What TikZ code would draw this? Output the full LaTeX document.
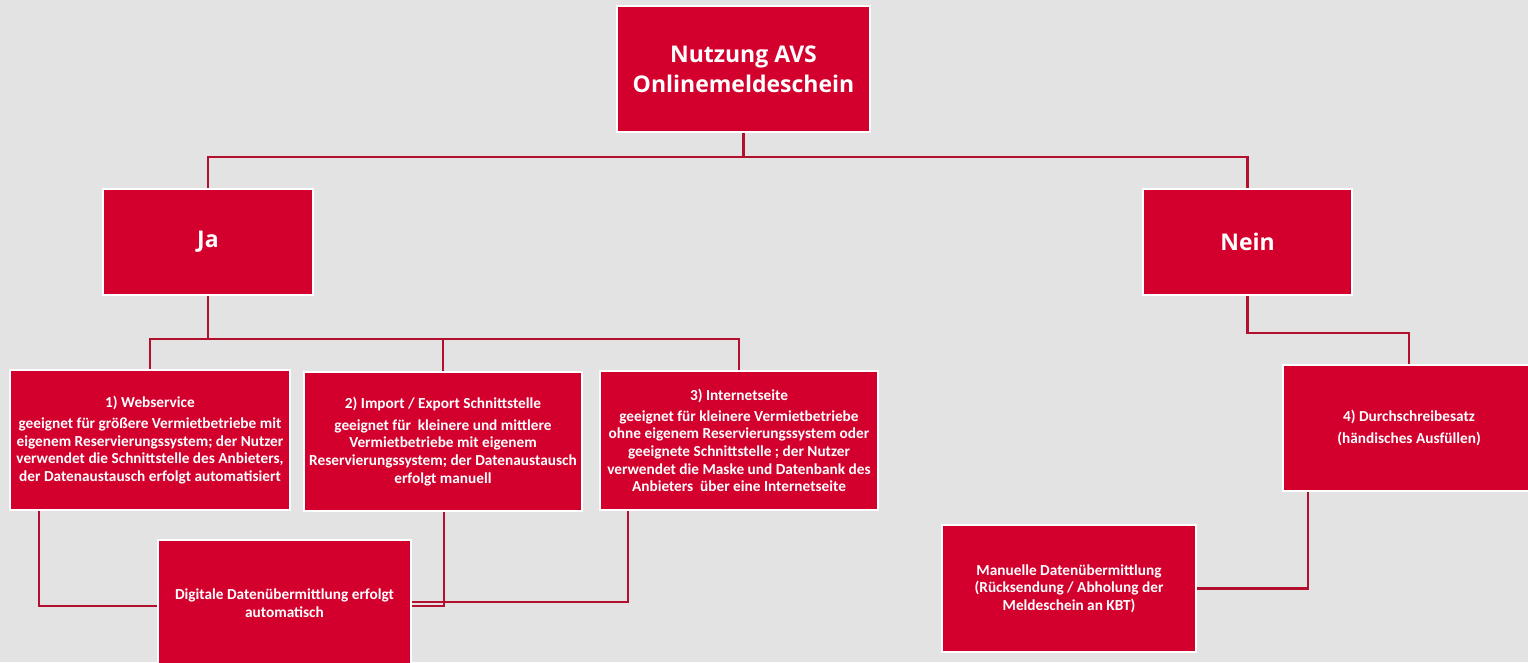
\documentclass[tikz,border=0pt]{standalone}
\usepackage{fontspec}
\setmainfont{Carlito}
\newfontfamily\bigfont{Open Sans}
\definecolor{boxred}{HTML}{D3002E}
\definecolor{linered}{HTML}{B3102F}
\definecolor{bg}{HTML}{E3E3E3}
\begin{document}
\begin{tikzpicture}[x=1pt,y=-1pt,
  box/.style={fill=boxred,draw=white,line width=2pt,inner sep=0pt,align=center,text=white},
  big/.style={box,font=\bigfont\bfseries\fontsize{23}{30}\selectfont},
  small/.style={box,font=\bfseries\fontsize{15.3}{17.6}\selectfont},
  conn/.style={draw=linered,line width=2.6pt}]
\fill[bg] (0,0) rectangle (1528,662);
\useasboundingbox (0,0) rectangle (1528,662);
\begin{scope}
\clip (0,0) rectangle (1528,662);
% boxes
\node[big,minimum width=253,minimum height=126] (top) at (743.5,69) {Nutzung AVS\\Onlinemeldeschein};
\node[big,minimum width=210,minimum height=106] (ja) at (208,242) {Ja};
\node[big,minimum width=209,minimum height=106] (nein) at (1247.5,242) {Nein};
\node[small,minimum width=280,minimum height=140] (b1) at (150,440) {1) Webservice\\[4pt]geeignet für größere Vermietbetriebe mit\\eigenem Reservierungssystem; der Nutzer\\verwendet die Schnittstelle des Anbieters,\\der Datenaustausch erfolgt automatisiert};
\node[small,minimum width=278,minimum height=139] (b2) at (443,441.5) {2) Import / Export Schnittstelle\\[4pt]geeignet für\ \ kleinere und mittlere\\Vermietbetriebe mit eigenem\\Reservierungssystem; der Datenaustausch\\erfolgt manuell};
\node[small,minimum width=278,minimum height=139] (b3) at (739,440.5) {3) Internetseite\\[3pt]geeignet für kleinere Vermietbetriebe\\ohne eigenem Reservierungssystem oder\\geeignete Schnittstelle ; der Nutzer\\verwendet die Maske und Datenbank des\\Anbieters\ \ über eine Internetseite};
\node[small,minimum width=252,minimum height=126] (b4) at (1409,428) {4) Durchschreibesatz\\[5pt](händisches Ausfüllen)};
\node[small,minimum width=253,minimum height=126] (dig) at (284.5,603) {Digitale Datenübermittlung erfolgt\\automatisch};
\node[small,minimum width=254,minimum height=127] (man) at (1069,588.5) {Manuelle Datenübermittlung\\(Rücksendung / Abholung der\\Meldeschein an KBT)};
\end{scope}
% connectors
\coordinate (t1) at (743.5,157);
\draw[conn] (top.south) -- (t1);
\draw[conn] (ja.north) |- (t1) -| (nein.north);
\coordinate (j1) at (208,339);
\draw[conn] (ja.south) -- (j1);
\draw[conn] (b1.north) |- (j1) -| (b3.north);
\draw[conn] (b2.north) -- (b2.north |- j1);
\coordinate (n1) at (1247.5,333);
\draw[conn] (nein.south) -- (n1) -| (b4.north);
\draw[conn] ([xshift=-111pt]b1.south) |- ([yshift=-3pt]dig.west);
\draw[conn] ([xshift=1pt]b2.south) |- ([yshift=-3pt]dig.east);
\draw[conn] ([xshift=-111pt]b3.south) |- ([yshift=1pt]dig.east);
\draw[conn] ([xshift=-101pt]b4.south) |- (man.east);
\end{tikzpicture}
\end{document}
